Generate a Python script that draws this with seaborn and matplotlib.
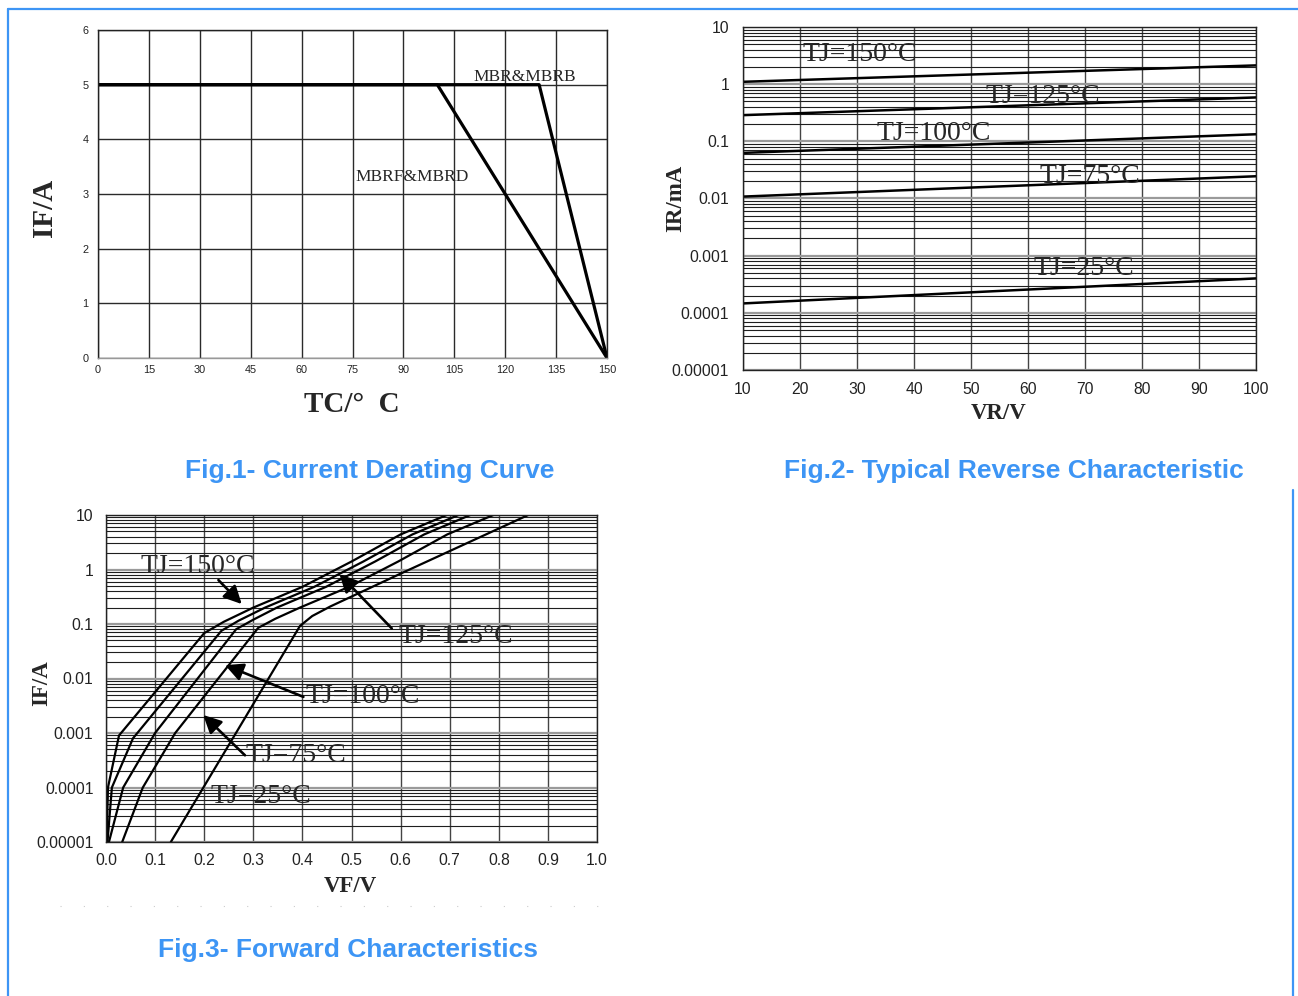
import numpy as np
import pandas as pd
import matplotlib
matplotlib.use("Agg")
import matplotlib.pyplot as plt
import seaborn as sns
from matplotlib.lines import Line2D
from matplotlib.ticker import FixedLocator, NullFormatter, LogLocator

# ---------------- data ----------------
# Fig.1 current derating
tc_mbr = [0, 130, 150]
if_mbr = [5, 5, 0]
tc_mbrf = [0, 100, 150]
if_mbrf = [5, 5, 0]
fig1_xticks = [0, 15, 30, 45, 60, 75, 90, 105, 120, 135, 150]
fig1_yticks = [0, 1, 2, 3, 4, 5, 6]

# Fig.2 reverse characteristic (IR in mA)
vr = [10, 100]
ir_150 = [1.10, 2.13]
ir_125 = [0.287, 0.586]
ir_100 = [0.0628, 0.133]
ir_75 = [0.0108, 0.0245]
ir_25 = [0.000146, 0.00040]
fig2_xticks = [10, 20, 30, 40, 50, 60, 70, 80, 90, 100]
log_ticks = [1e-5, 1e-4, 1e-3, 1e-2, 1e-1, 1, 10]
log_labels = ["0.00001", "0.0001", "0.001", "0.01", "0.1", "1", "10"]

# Fig.3 forward characteristic
vf_150 = [0.0013, 0.004, 0.0265, 0.200, 0.240, 0.300, 0.400, 0.500, 0.600, 0.694]
if_150 = [1e-5, 1e-4, 9e-4, 0.068, 0.11, 0.20, 0.48, 1.4, 4.4, 10]
vf_125 = [0.003, 0.012, 0.055, 0.235, 0.270, 0.324, 0.424, 0.524, 0.624, 0.718]
if_125 = [1e-5, 1e-4, 8e-4, 0.075, 0.115, 0.20, 0.48, 1.4, 4.4, 10]
vf_100 = [0.006, 0.035, 0.100, 0.265, 0.300, 0.348, 0.448, 0.548, 0.648, 0.742]
if_100 = [1e-5, 1e-4, 1e-3, 0.080, 0.12, 0.20, 0.48, 1.4, 4.4, 10]
vf_75 = [0.033, 0.075, 0.141, 0.310, 0.345, 0.395, 0.495, 0.595, 0.695, 0.789]
if_75 = [1e-5, 1e-4, 1e-3, 0.085, 0.125, 0.20, 0.48, 1.4, 4.4, 10]
vf_25 = [0.132, 0.395, 0.420, 0.457, 0.600, 0.860]
if_25 = [1e-5, 0.092, 0.14, 0.21, 0.84, 10]
fig3_xticks = [0.0, 0.1, 0.2, 0.3, 0.4, 0.5, 0.6, 0.7, 0.8, 0.9, 1.0]

# ---------------- style ----------------
sns.set_theme(style="white")
plt.rcParams["font.family"] = ["Liberation Sans", "DejaVu Sans"]
SERIF = ["Liberation Serif", "DejaVu Serif"]
BLUE = "#3d95f5"

W, H = 1298, 996
fig = plt.figure(figsize=(W / 100, H / 100), dpi=100)
fig.patch.set_facecolor("white")


def frac_axes(l, t, r, b):
    return fig.add_axes([l / W, 1 - b / H, (r - l) / W, (b - t) / H])


# ---------------- Fig.1 ----------------
ax1 = frac_axes(98, 30, 607, 358)
sns.lineplot(x=tc_mbr, y=if_mbr, ax=ax1, color="black", lw=2.3, sort=False, estimator=None)
sns.lineplot(x=tc_mbrf, y=if_mbrf, ax=ax1, color="black", lw=2.3, sort=False, estimator=None)
ax1.set_xlim(0, 150)
ax1.set_ylim(0, 6)
ax1.set_xticks(fig1_xticks)
ax1.set_yticks(fig1_yticks)
ax1.grid(True, color="#2a2a2a", lw=1.0)
ax1.tick_params(length=0, labelsize=7.8, colors="#222222")
ax1.tick_params(axis="x", pad=5)
ax1.tick_params(axis="y", pad=7)
for s in ax1.spines.values():
    s.set_color("#222222")
    s.set_linewidth(1.0)
ax1.spines["bottom"].set_color("#999999")
ax1.set_xlabel("")
ax1.set_ylabel("")
ax1.text(110.5, 5.14, "MBR&MBRB", family=SERIF, fontsize=12.5, ha="left", va="center")
ax1.text(76.0, 3.31, "MBRF&MBRD", family=SERIF, fontsize=12.5, ha="left", va="center")

fig.text(352 / W, 1 - 405 / H, "TC/°  C", family=SERIF, fontsize=21, fontweight="bold",
         ha="center", va="center")
fig.text(45 / W, 1 - 208 / H, "IF/A", family=SERIF, fontsize=21, fontweight="bold",
         ha="center", va="center", rotation=90)
fig.text(370 / W, 1 - 471 / H, "Fig.1- Current Derating Curve", fontsize=19,
         fontweight="bold", color=BLUE, ha="center", va="center")


def log_grid(ax):
    ax.set_yscale("log")
    ax.set_ylim(1e-5, 10)
    ax.yaxis.set_major_locator(FixedLocator(log_ticks))
    ax.set_yticklabels(log_labels)
    ax.yaxis.set_minor_locator(LogLocator(base=10, subs=np.arange(2, 10)))
    ax.yaxis.set_minor_formatter(NullFormatter())
    ax.grid(True, which="minor", axis="y", color="#1e1e1e", lw=0.8)
    ax.grid(True, which="major", axis="y", color="#9a9a9a", lw=1.6)
    ax.grid(True, which="major", axis="x", color="#444444", lw=1.0)
    ax.tick_params(which="both", length=0)
    for s in ax.spines.values():
        s.set_color("#222222")
        s.set_linewidth(1.0)
    ax.set_xlabel("")
    ax.set_ylabel("")


# ---------------- Fig.2 ----------------
ax2 = frac_axes(743, 27, 1256, 370)
for ys in [ir_150, ir_125, ir_100, ir_75, ir_25]:
    sns.lineplot(x=vr, y=ys, ax=ax2, color="black", lw=1.8, sort=False, estimator=None)
log_grid(ax2)
ax2.set_xlim(10, 100)
ax2.set_xticks(fig2_xticks)
ax2.tick_params(labelsize=11.3, colors="#222222")
ax2.tick_params(axis="y", pad=10)
ax2.tick_params(axis="x", pad=9)
for (xx, yy, t) in [(20.5, 3.3, "TJ=150°C"), (52.5, 0.60, "TJ=125°C"), (33.5, 0.135, "TJ=100°C"),
                    (62.1, 0.024, "TJ=75°C"), (60.9, 0.00059, "TJ=25°C")]:
    ax2.text(xx, yy, t, family=SERIF, fontsize=20, ha="left", va="center")

fig.text(999 / W, 1 - 413 / H, "VR/V", family=SERIF, fontsize=16.5, fontweight="bold",
         ha="center", va="center")
fig.text(676 / W, 1 - 198 / H, "IR/mA", family=SERIF, fontsize=16.5, fontweight="bold",
         ha="center", va="center", rotation=90)
fig.text(1014 / W, 1 - 471 / H, "Fig.2- Typical Reverse Characteristic", fontsize=19,
         fontweight="bold", color=BLUE, ha="center", va="center")

# ---------------- Fig.3 ----------------
ax3 = frac_axes(106, 515, 597, 842)
for xs, ys in [(vf_150, if_150), (vf_125, if_125), (vf_100, if_100), (vf_75, if_75), (vf_25, if_25)]:
    sns.lineplot(x=xs, y=ys, ax=ax3, color="black", lw=1.6, sort=False, estimator=None)
log_grid(ax3)
ax3.set_xlim(0, 1.0)
ax3.set_xticks(fig3_xticks)
ax3.set_xticklabels([f"{v:.1f}" for v in fig3_xticks])
ax3.tick_params(labelsize=11.3, colors="#222222")
ax3.tick_params(axis="y", pad=9)
ax3.tick_params(axis="x", pad=8)

for (xx, yy, t) in [(0.071, 1.12, "TJ=150°C"), (0.595, 0.058, "TJ=125°C"), (0.406, 0.0046, "TJ=100°C"),
                    (0.285, 0.00038, "TJ=75°C"), (0.212, 6.7e-5, "TJ=25°C")]:
    ax3.text(xx, yy, t, family=SERIF, fontsize=20, ha="left", va="center")

arrows = [((0.2765, 0.232), (0.229, 0.64)),
          ((0.4755, 0.82), (0.582, 0.083)),
          ((0.2425, 0.0176), (0.402, 0.0046)),
          ((0.198, 0.00214), (0.283, 0.00039))]
for head, tail in arrows:
    ax3.annotate("", xy=head, xytext=tail,
                 arrowprops=dict(arrowstyle="-|>", color="black", lw=1.9, mutation_scale=27,
                                 shrinkA=0, shrinkB=0))

fig.text(350 / W, 1 - 886 / H, "VF/V", family=SERIF, fontsize=16.5, fontweight="bold",
         ha="center", va="center")
fig.text(42 / W, 1 - 683 / H, "IF/A", family=SERIF, fontsize=16.5, fontweight="bold",
         ha="center", va="center", rotation=90)
fig.text(348 / W, 1 - 950 / H, "Fig.3- Forward Characteristics", fontsize=19,
         fontweight="bold", color=BLUE, ha="center", va="center")

# ---------------- frame decorations ----------------
fig.add_artist(Line2D([8 / W, 1.0], [1 - 9 / H, 1 - 9 / H], transform=fig.transFigure,
                      color=BLUE, lw=1.6))
fig.add_artist(Line2D([8 / W, 8 / W], [0, 1 - 9 / H], transform=fig.transFigure,
                      color=BLUE, lw=1.6))
fig.add_artist(Line2D([1293 / W, 1293 / W], [0, 1 - 490 / H], transform=fig.transFigure,
                      color=BLUE, lw=1.6))
fig.add_artist(Line2D([60 / W, 615 / W], [1 - 906 / H, 1 - 906 / H], transform=fig.transFigure,
                      color="#cccccc", lw=0.8, ls=(0, (1, 20))))

fig.savefig("out.png", dpi=100, facecolor="white")
